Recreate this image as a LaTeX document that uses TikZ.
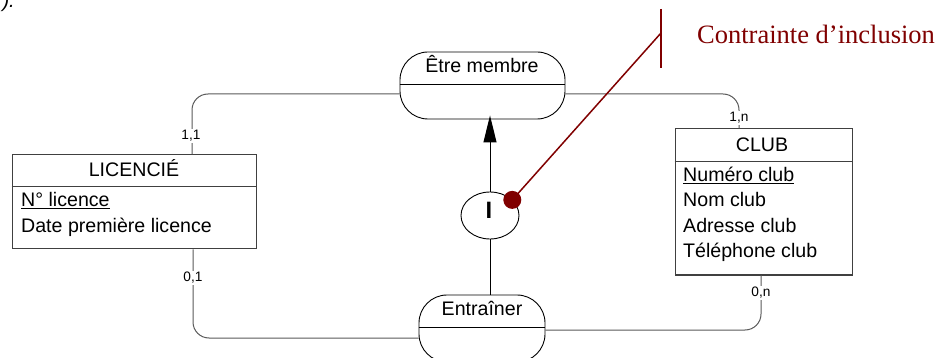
\documentclass[tikz,border=0pt]{standalone}
\usepackage{fontspec}
\setmainfont{Liberation Sans}
\newfontfamily\timesfont{Liberation Serif}
\usetikzlibrary{shapes.geometric}
\usepgflibrary{arrows.meta}
\definecolor{bordeaux}{RGB}{128,0,0}
\newcommand{\attrsize}{\fontsize{19.6}{22}\selectfont}
\newcommand{\cardsize}{\fontsize{13.7}{15}\selectfont}

\begin{document}
\begin{tikzpicture}[x=1pt,y=-1pt,
		entite/.style={draw=black!75,line width=1pt,inner sep=0pt},
		assoc/.style={draw,line width=0.9pt,rounded corners=28pt,inner sep=0pt,fill=white},
		lien/.style={draw=black!65,line width=1pt,rounded corners=16pt},
		card/.style={fill=white,inner sep=1pt,font=\cardsize},
		texte/.style={font=\attrsize,inner sep=0pt}]
		\useasboundingbox (0,0) rectangle (940,358);
		\clip (0,0) rectangle (940,358);
		\node [anchor=base east][font=\itshape\fontsize{20}{24}\selectfont,inner sep=0pt] (frag) at (15,8) {).};
		\node [entite][minimum width=244pt,minimum height=94pt] (lic) at (134,202) {};
		\node [entite][minimum width=177pt,minimum height=146pt] (club) at (763.5,202) {};
		\node [assoc][minimum width=165pt,minimum height=67pt] (membre) at (482.5,85.5) {};
		\node [assoc][minimum width=126pt,minimum height=67pt] (entr) at (482,328.5) {};
		\node [draw,ellipse][line width=0.9pt,minimum width=58pt,minimum height=47pt,inner sep=0pt] (incl) at (490,215.5) {};
		\draw [lien] ([xshift=58pt]lic.north) |- ([yshift=-8.5pt]membre.west);
		\draw [lien] ([yshift=-8.5pt]membre.east) -| ([xshift=-24.5pt]club.north);
		\draw [lien] ([xshift=59pt]lic.south) |- ([yshift=-9.5pt]entr.west);
		\draw [lien] ([yshift=-1.5pt]entr.east) -| ([xshift=-2.5pt]club.south);
		\draw [black!75,line width=1pt] (lic.west |- 0,187) -- (lic.east |- 0,187);
		\draw [black!75,line width=1pt] (club.west |- 0,162) -- (club.east |- 0,162);
		\draw [line width=0.9pt] ([yshift=1.5pt]membre.west) -- ([yshift=1.5pt]membre.east);
		\draw [line width=0.9pt] ([yshift=1.5pt]entr.west) -- ([yshift=1.5pt]entr.east);
		\draw [line width=1pt][-{Triangle[length=27pt,width=13pt]}] (incl.north) -- ([yshift=4pt]incl.north |- membre.south);
		\draw [line width=1pt] (incl.south) -- (incl.south |- entr.north);
		\node [texte,anchor=base] (tmembre) at (482,73) {Être membre};
		\node [texte,anchor=base] (tentr) at (482,316) {Entraîner};
		\node [texte,anchor=base] (tlic) at (134,177) {LICENCIÉ};
		\node [texte,anchor=base] (tclub) at (762,152) {CLUB};
		\node [texte,anchor=base west] (lic1) at (21,207) {\underline{N° licence}};
		\node [texte,anchor=base west] (lic2) at (21,233) {Date première licence};
		\node [texte,anchor=base west] (club1) at (683,182) {\underline{Numéro club}};
		\node [texte,anchor=base west] (club2) at (683,207) {Nom club};
		\node [texte,anchor=base west] (club3) at (683,233) {Adresse club};
		\node [texte,anchor=base west] (club4) at (683,258) {Téléphone club};
		\node [card] (c11) at (191,136) {1,1};
		\node [card] (c1n) at (739,118) {1,n};
		\node [card] (c01) at (193,278) {0,1};
		\node [card] (c0n) at (761,293) {0,n};
		\node [anchor=base][font=\bfseries\fontsize{23.7}{26}\selectfont,inner sep=0pt] (lettre) at (489,219) {I};
		\coordinate (barre) at (661,33);
		\draw [bordeaux,line width=1.5pt] (barre) ++(0,-24) -- ++(0,59);
		\draw [bordeaux,line width=1.5pt] (incl.35) -- (barre);
		\node [circle,fill=bordeaux][minimum size=18pt,inner sep=0pt] (point) at (incl.35) {};
		\node [anchor=base west][text=bordeaux,font=\timesfont\fontsize{26.5}{30}\selectfont,inner sep=0pt] (titre) at (697,44) {Contrainte d’inclusion};
	\end{tikzpicture}
\end{document}
